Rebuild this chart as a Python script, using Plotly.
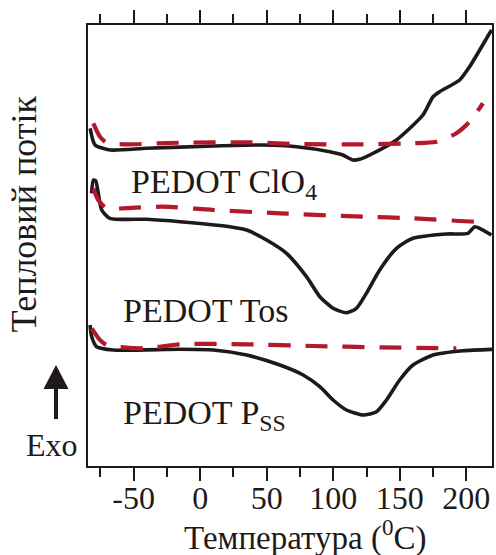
import plotly.graph_objects as go

# ---- data (x: temperature °C, y: heat flow, arbitrary units) ----
clo4_black_x = [-82.7, -79.0, -67.7, -40.2, 9.6, 47.1, 72.4, 97.4, 107.2, 114.7, 119.9, 127.4, 147.5, 167.4, 175.0, 180.0, 195.0, 202.5, 217.5, 219.0]
clo4_black_y = [337.7, 321.0, 316.0, 317.7, 320.0, 321.0, 319.3, 314.3, 311.0, 306.0, 306.7, 311.0, 326.0, 351.0, 369.3, 374.3, 386.0, 399.3, 432.7, 436.0]
clo4_red_x = [-80.3, -75.3, -70.2, -57.8, -15.2, 34.9, 72.4, 122.4, 159.9, 177.5, 192.5, 202.5, 212.5]
clo4_red_y = [342.7, 329.3, 323.3, 321.7, 323.3, 323.7, 322.0, 321.7, 322.7, 324.3, 332.7, 344.3, 362.7]

tos_black_x = [-81.6, -80.3, -78.5, -74.0, -67.8, -40.2, -15.2, 22.3, 34.9, 49.9, 64.9, 79.9, 89.9, 99.9, 109.9, 117.4, 124.9, 134.9, 147.5, 159.9, 185.0, 201.2, 206.3, 210.0, 218.8]
tos_black_y = [272.7, 286.0, 285.0, 256.0, 247.7, 246.7, 244.3, 239.3, 236.0, 226.0, 212.7, 189.3, 169.3, 157.7, 153.3, 157.7, 172.7, 196.0, 217.7, 227.7, 232.0, 232.7, 239.3, 237.7, 231.0]
tos_red_x = [-80.3, -76.6, -70.2, -57.8, -27.8, 9.8, 59.9, 122.4, 159.9, 210.0, 214.0]
tos_red_y = [277.7, 266.0, 257.7, 257.7, 259.3, 256.0, 252.7, 249.3, 247.7, 244.3, 245.0]

pss_black_x = [-82.8, -81.5, -77.8, -65.3, -15.2, 9.8, 34.9, 59.9, 77.4, 89.9, 99.9, 109.9, 122.4, 132.5, 140.0, 149.9, 159.9, 175.0, 197.5, 220.0]
pss_black_y = [141.0, 129.3, 119.3, 116.0, 116.7, 116.0, 111.0, 101.0, 91.0, 79.3, 66.0, 56.0, 51.0, 54.3, 66.0, 86.0, 101.0, 111.0, 115.3, 116.7]
pss_red_x = [-81.5, -75.3, -70.2, -42.8, -15.2, 34.9, 84.9, 134.9, 192.5]
pss_red_y = [137.7, 126.0, 121.0, 117.7, 121.7, 121.7, 120.0, 118.7, 117.7]

major_ticks = [-50, 0, 50, 100, 150, 200]
major_labels = ["-50", "0", "50", "100", "150", "200"]
minor_ticks = [-75, -25, 25, 75, 125, 175]
sample_labels = ["PEDOT ClO<sub>4</sub>", "PEDOT Tos", "PEDOT P<sub>SS</sub>"]
label_x = [-53.4, -59.7, -59.7]
label_y = [282.5, 156.0, 51.0]

BLACK = "#1f1a1a"
RED = "#b3182b"
FONT = "Liberation Serif"

fig = go.Figure()
for xs, ys in [(clo4_black_x, clo4_black_y), (tos_black_x, tos_black_y), (pss_black_x, pss_black_y)]:
    fig.add_trace(go.Scatter(x=xs, y=ys, mode="lines",
                             line=dict(color=BLACK, width=3.6, shape="spline", smoothing=0.6),
                             showlegend=False, hoverinfo="skip"))
for xs, ys in [(clo4_red_x, clo4_red_y), (tos_red_x, tos_red_y), (pss_red_x, pss_red_y)]:
    fig.add_trace(go.Scatter(x=xs, y=ys, mode="lines",
                             line=dict(color=RED, width=4.2, dash="22px,15px", shape="spline", smoothing=0.7),
                             showlegend=False, hoverinfo="skip"))

annotations = []
for t, x, y in zip(sample_labels, label_x, label_y):
    annotations.append(dict(x=x, y=y, xref="x", yref="y", text=t, showarrow=False,
                            xanchor="left", yanchor="middle",
                            font=dict(family=FONT, size=34, color=BLACK)))
annotations.append(dict(x=-0.156, y=0.5726, xref="paper", yref="paper", text="Тепловий потік",
                        textangle=-90, showarrow=False, xanchor="center", yanchor="middle",
                        font=dict(family=FONT, size=36, color=BLACK)))
annotations.append(dict(x=-0.0879, y=0.0476, xref="paper", yref="paper", text="Exo",
                        showarrow=False, xanchor="center", yanchor="middle",
                        font=dict(family=FONT, size=32, color=BLACK)))
annotations.append(dict(x=0.537, y=-0.1587, xref="paper", yref="paper", text="Температура (<sup>0</sup>C)",
                        showarrow=False, xanchor="center", yanchor="middle",
                        font=dict(family=FONT, size=33, color=BLACK)))

def px2paper(px, py):
    return (px - 88) / 404, (466 - py) / 441

ax0, ay0 = px2paper(56, 365)
axl, ayb = px2paper(43.5, 389)
axr, _ = px2paper(68.5, 389)
sx, sy1 = px2paper(56, 386)
_, sy2 = px2paper(56, 419)

shapes = [
    dict(type="path", xref="paper", yref="paper",
         path=f"M {ax0} {ay0} L {axl} {ayb} L {axr} {ayb} Z",
         fillcolor=BLACK, line=dict(color=BLACK, width=0)),
    dict(type="line", xref="paper", yref="paper", x0=sx, y0=sy1, x1=sx, y1=sy2,
         line=dict(color=BLACK, width=4)),
]

fig.update_layout(
    width=496, height=555,
    margin=dict(l=88, r=4, t=25, b=89, autoexpand=False),
    paper_bgcolor="white", plot_bgcolor="white",
    font=dict(family=FONT, size=32, color=BLACK),
    annotations=annotations, shapes=shapes,
    xaxis=dict(range=[-84.3, 219.3], showgrid=False, zeroline=False, automargin=False,
               showline=True, linecolor=BLACK, linewidth=2, mirror="ticks",
               ticks="outside", ticklen=13, tickwidth=2, tickcolor=BLACK,
               tickvals=major_ticks, ticktext=major_labels, ticklabelstandoff=-10,
               tickfont=dict(family=FONT, size=32, color=BLACK),
               minor=dict(tickvals=minor_ticks, ticks="outside",
                          ticklen=9, tickwidth=2, tickcolor=BLACK, showgrid=False)),
    yaxis=dict(range=[0, 441], showgrid=False, zeroline=False, showticklabels=False, automargin=False,
               showline=True, linecolor=BLACK, linewidth=2, mirror=True, ticks=""),
)

fig.write_html("out.html", config={"displayModeBar": False},
               post_script="document.body.style.margin='0';document.body.style.overflow='hidden';")
